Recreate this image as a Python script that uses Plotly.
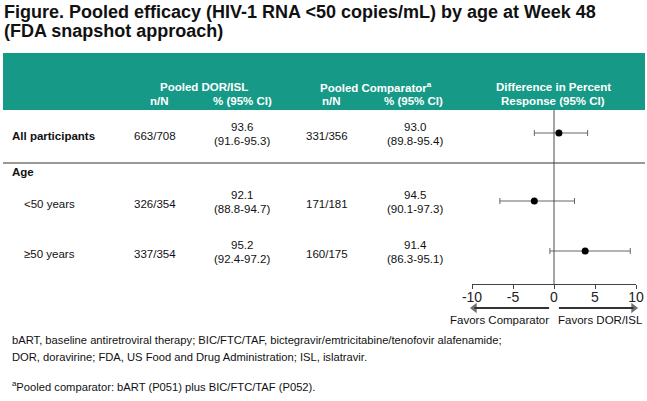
import plotly.graph_objects as go

# ---------------- data ----------------
subgroups = ["All participants", "<50 years", "≥50 years"]
dor_nN = ["663/708", "326/354", "337/354"]
dor_pct = ["93.6", "92.1", "95.2"]
dor_ci = ["(91.6-95.3)", "(88.8-94.7)", "(92.4-97.2)"]
cmp_nN = ["331/356", "171/181", "160/175"]
cmp_pct = ["93.0", "94.5", "91.4"]
cmp_ci = ["(89.8-95.4)", "(90.1-97.3)", "(86.3-95.1)"]
diff = [0.6, -2.4, 3.8]
diff_lo = [-2.4, -6.6, -0.5]
diff_hi = [4.1, 2.5, 9.3]
x_ticks = [-10, -5, 0, 5, 10]
x_tick_labels = ["-10", "-5", "0", "5", "10"]

title_lines = ["Figure. Pooled efficacy (HIV-1 RNA <50 copies/mL) by age at Week 48",
               "(FDA snapshot approach)"]
footnotes = ["bART, baseline antiretroviral therapy; BIC/FTC/TAF, bictegravir/emtricitabine/tenofovir alafenamide;",
             "DOR, doravirine; FDA, US Food and Drug Administration; ISL, islatravir.",
             "<sup>a</sup>Pooled comparator: bART (P051) plus BIC/FTC/TAF (P052)."]

# ---------------- layout / style ----------------
W, H = 647, 401
FONT = "Liberation Sans, Arial, sans-serif"
TEAL = "#169a87"
LINE = "#4a4a4a"

row_y = [133, 201, 251]          # row centres (pixels from top)
label_x = [10, 22, 22]
col_dor_n, col_dor_p = 155, 242
col_cmp_n, col_cmp_p = 327, 415
axis_y = 284
arrow_y = 308


def px(x):
    return x / W


def py(y):
    return 1 - y / H


fig = go.Figure()

# forest points with CIs
fig.add_trace(go.Scatter(
    x=diff, y=row_y, mode="markers",
    marker=dict(color="black", size=7),
    error_x=dict(type="data", symmetric=False,
                 array=[h - d for h, d in zip(diff_hi, diff)],
                 arrayminus=[d - l for d, l in zip(diff, diff_lo)],
                 color="#666666", thickness=1, width=3),
    showlegend=False, hoverinfo="skip", cliponaxis=False))

# "favors" arrows
for head, tail, sym in ((-9.7, -0.6, "triangle-left"), (9.7, 0.6, "triangle-right")):
    fig.add_trace(go.Scatter(
        x=[tail, head], y=[arrow_y, arrow_y], mode="lines+markers",
        line=dict(color="#333333", width=2),
        marker=dict(symbol=["circle", sym], size=[0, 9], color="#333333", line=dict(width=0)),
        showlegend=False, hoverinfo="skip", cliponaxis=False))

shapes = [
    # header band
    dict(type="rect", xref="paper", yref="paper", x0=px(3), x1=px(645), y0=py(110), y1=py(53),
         fillcolor=TEAL, line=dict(width=0), layer="below"),
    # separator
    dict(type="line", xref="paper", yref="paper", x0=px(3), x1=px(645), y0=py(163), y1=py(163),
         line=dict(color="#777777", width=1.5)),
    # zero line
    dict(type="line", xref="x", yref="y", x0=0, x1=0, y0=110, y1=axis_y,
         line=dict(color=LINE, width=1)),
]

ann = []


def txt(x, y, s, size=11.5, bold=False, color="#111111", xanchor="center", xref="paper", yref="paper"):
    if bold:
        s = "<b>" + s + "</b>"
    ann.append(dict(x=x, y=y, xref=xref, yref=yref, text=s, showarrow=False,
                    xanchor=xanchor, yanchor="middle",
                    font=dict(family=FONT, size=size, color=color)))


# title
txt(px(2), py(12), title_lines[0], size=18, bold=True, xanchor="left")
txt(px(2), py(31), title_lines[1], size=18, bold=True, xanchor="left")

# header
hy1, hy2 = 87, 101
txt(px(204), py(hy1), "Pooled DOR/ISL", bold=True, color="white")
txt(px(159), py(hy2), "n/N", bold=True, color="white")
txt(px(242), py(hy2), "% (95% CI)", bold=True, color="white")
txt(px(376), py(hy1), "Pooled Comparator<sup>a</sup>", bold=True, color="white")
txt(px(331), py(hy2), "n/N", bold=True, color="white")
txt(px(413), py(hy2), "% (95% CI)", bold=True, color="white")
txt(px(553), py(hy1), "Difference in Percent", bold=True, color="white")
txt(px(553), py(hy2), "Response (95% CI)", bold=True, color="white")

# rows
for i, name in enumerate(subgroups):
    y = row_y[i]
    txt(px(label_x[i]), py(y + 3), name, bold=(i == 0), xanchor="left")
    txt(px(col_dor_n), py(y + 3), dor_nN[i])
    txt(px(col_dor_p), py(y - 6), dor_pct[i])
    txt(px(col_dor_p), py(y + 8), dor_ci[i])
    txt(px(col_cmp_n), py(y + 3), cmp_nN[i])
    txt(px(col_cmp_p), py(y - 6), cmp_pct[i])
    txt(px(col_cmp_p), py(y + 8), cmp_ci[i])
txt(px(10), py(172), "Age", bold=True, xanchor="left")

txt(-6.7, 320, "Favors Comparator", size=11.5, xref="x", yref="y")
txt(5.7, 320, "Favors DOR/ISL", size=11.5, xref="x", yref="y")

# footnotes
txt(px(10), py(340), footnotes[0], size=11.2, xanchor="left")
txt(px(10), py(357), footnotes[1], size=11.2, xanchor="left")
txt(px(10), py(386), footnotes[2], size=11.2, xanchor="left")

fig.update_layout(
    width=W, height=H, margin=dict(l=0, r=0, t=0, b=0, pad=0, autoexpand=False),
    paper_bgcolor="white", plot_bgcolor="rgba(0,0,0,0)",
    shapes=shapes, annotations=ann, showlegend=False,
    xaxis=dict(domain=[px(472), px(636)], range=[-10, 10], anchor="free", position=py(axis_y),
               tickvals=x_ticks, ticktext=x_tick_labels, ticks="outside", ticklen=4,
               tickcolor="#444444", tickwidth=1, ticklabelstandoff=-4, automargin=False,
               showline=True, linecolor="#444444", linewidth=1.2, showgrid=False, zeroline=False,
               tickfont=dict(family=FONT, size=14, color="#222222"), fixedrange=True),
    yaxis=dict(domain=[0, 1], range=[H, 0], visible=False, fixedrange=True, automargin=False),
)

fig.write_html("out.html")
